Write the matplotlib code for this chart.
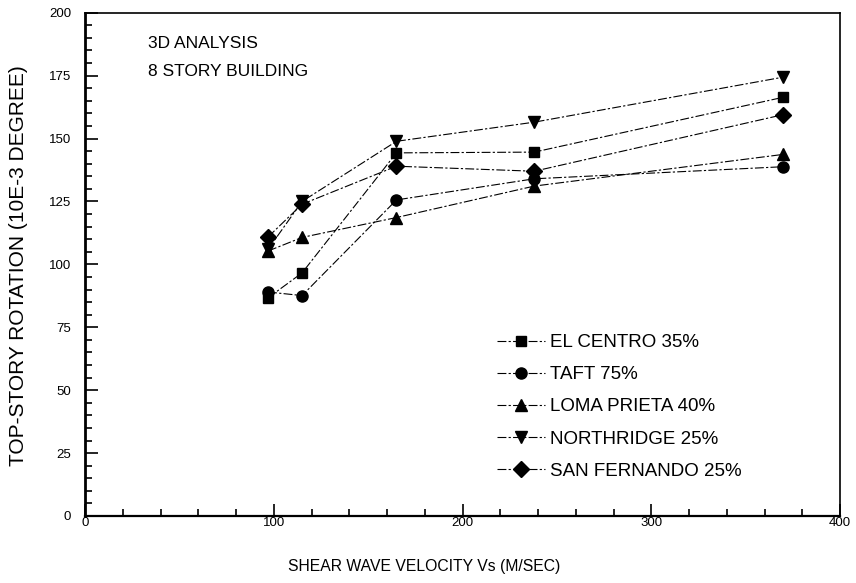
import matplotlib
matplotlib.use("Agg")
import matplotlib.pyplot as plt
from matplotlib.ticker import MultipleLocator

plt.rcParams['font.family'] = ['Liberation Sans', 'DejaVu Sans']

# Shear wave velocity of the soil (m/s)
vs = [97, 115, 165, 238, 370]

# Top-story rotation (1e-3 degree) per ground motion record
el_centro = [86.7, 96.6, 144.3, 144.6, 166.4]
taft = [89.0, 87.6, 125.6, 134.0, 138.8]
loma_prieta = [105.3, 110.7, 118.6, 131.1, 143.7]
northridge = [106.0, 125.0, 148.9, 156.5, 174.4]
san_fernando = [110.9, 123.9, 139.0, 137.0, 159.5]

series_labels = ["EL CENTRO 35%", "TAFT 75%", "LOMA PRIETA 40%",
                 "NORTHRIDGE 25%", "SAN FERNANDO 25%"]
series_values = [el_centro, taft, loma_prieta, northridge, san_fernando]
markers = ["s", "o", "^", "v", "D"]
marker_sizes = [7, 8, 9, 9, 8]

x_ticks = [0, 100, 200, 300, 400]
y_ticks = [0, 25, 50, 75, 100, 125, 150, 175, 200]

fig = plt.figure(figsize=(8.56, 5.83), dpi=100)
W, H = 856, 583
left, right, top, bottom = 85, 840, 12.7, 516
ax = fig.add_axes([left / W, 1 - bottom / H, (right - left) / W, (bottom - top) / H])

for vals, lab, m, ms in zip(series_values, series_labels, markers, marker_sizes):
    ax.plot(vs, vals, color="black", linewidth=0.8, linestyle=(0, (8, 2, 2, 2)),
            marker=m, markersize=ms, markerfacecolor="black",
            markeredgecolor="black", label=lab)

ax.set_xlim(0, 400)
ax.set_ylim(0, 200)
ax.set_xticks(x_ticks)
ax.set_yticks(y_ticks)
ax.set_xticklabels([str(t) for t in x_ticks], fontsize=9.5)
ax.set_yticklabels([str(t) for t in y_ticks], fontsize=9.5)
ax.xaxis.set_minor_locator(MultipleLocator(20))
ax.yaxis.set_minor_locator(MultipleLocator(5))
ax.tick_params(which="both", direction="in", top=False, right=False, width=1.2)
ax.tick_params(which="major", length=9)
ax.tick_params(axis="x", which="major", pad=1)
ax.tick_params(axis="y", which="major", pad=10)
ax.tick_params(which="minor", length=5)
for s in ax.spines.values():
    s.set_linewidth(1.2)
ax.spines["left"].set_linewidth(2.0)
ax.spines["bottom"].set_linewidth(1.6)

fig.text(424 / W, 1 - 566 / H, "SHEAR WAVE VELOCITY Vs (M/SEC)",
         ha="center", va="center", fontsize=11.3)
fig.text(19 / W, 1 - 266 / H, "TOP-STORY ROTATION (10E-3 DEGREE)",
         ha="center", va="center", rotation=90, fontsize=15)

ax.text(148 / W, 1 - 44 / H, "3D ANALYSIS", transform=fig.transFigure,
        ha="left", va="center", fontsize=12.5)
ax.text(148 / W, 1 - 72 / H, "8 STORY BUILDING", transform=fig.transFigure,
        ha="left", va="center", fontsize=12.5)

ax.legend(loc="upper left", bbox_to_anchor=(497 / W, 1 - 334 / H),
          bbox_transform=fig.transFigure, frameon=False, fontsize=13.5,
          handlelength=2.56, handletextpad=0.27, labelspacing=0.8,
          borderpad=0, borderaxespad=0)

fig.savefig("out.png", dpi=100, facecolor="white")
